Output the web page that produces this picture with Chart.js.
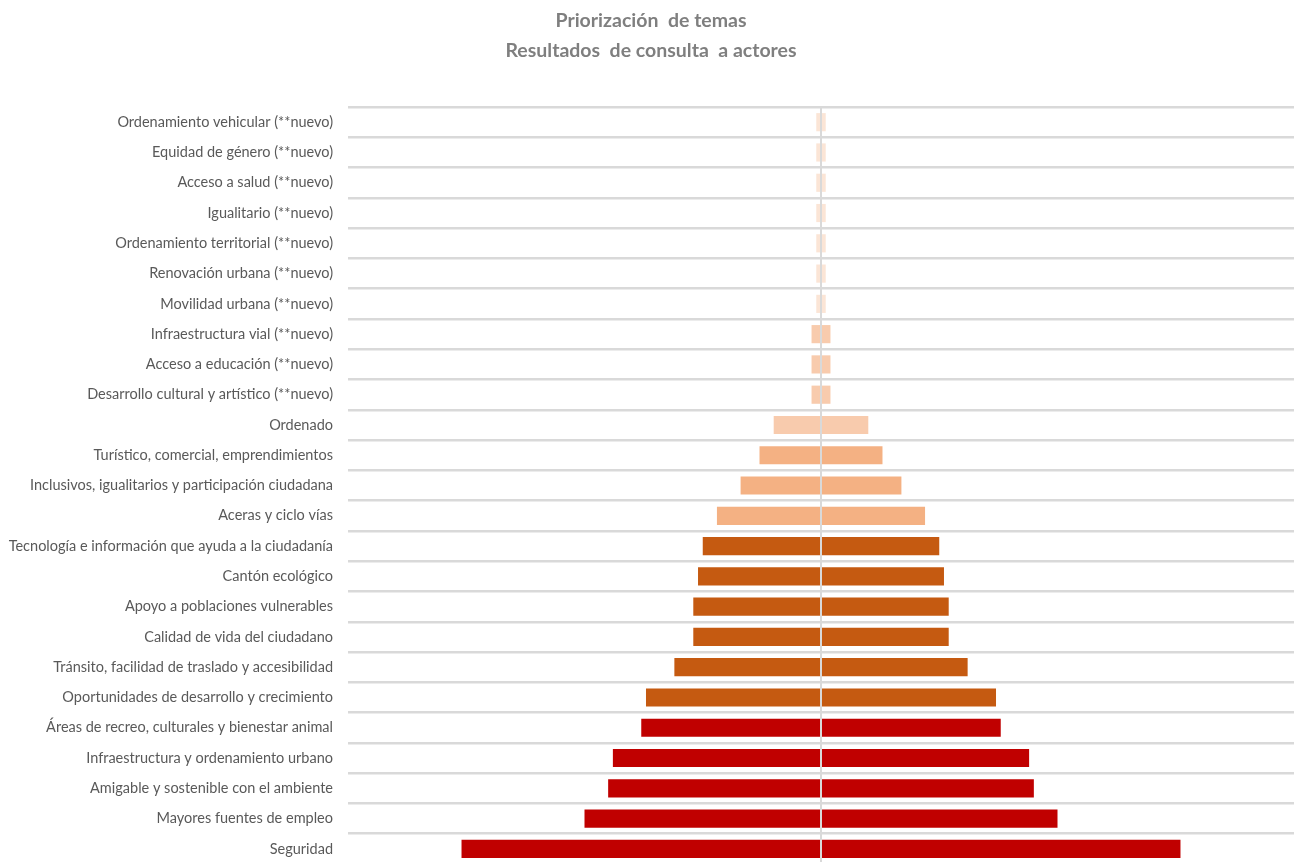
<!DOCTYPE html>
<html>
<head>
<meta charset="utf-8">
<title>Priorización de temas</title>
<script src="https://cdn.jsdelivr.net/npm/chart.js@4"></script>
<style>
    html, body { margin: 0; padding: 0; background: #fff; overflow: hidden; }
    canvas { display: block; }
</style>
</head>
<body>
<canvas id="myChart-temas" width="1294" height="868"></canvas>
<script>
// temas, de arriba hacia abajo
var temas = [
    'Ordenamiento vehicular (**nuevo)',
    'Equidad de género (**nuevo)',
    'Acceso a salud (**nuevo)',
    'Igualitario (**nuevo)',
    'Ordenamiento territorial (**nuevo)',
    'Renovación urbana (**nuevo)',
    'Movilidad urbana (**nuevo)',
    'Infraestructura vial (**nuevo)',
    'Acceso a educación (**nuevo)',
    'Desarrollo cultural y artístico (**nuevo)',
    'Ordenado',
    'Turístico, comercial, emprendimientos',
    'Inclusivos, igualitarios y participación ciudadana',
    'Aceras y ciclo vías',
    'Tecnología e información que ayuda a la ciudadanía',
    'Cantón ecológico',
    'Apoyo a poblaciones vulnerables',
    'Calidad de vida del ciudadano',
    'Tránsito, facilidad de traslado y accesibilidad',
    'Oportunidades de desarrollo y crecimiento',
    'Áreas de recreo, culturales y bienestar animal',
    'Infraestructura y ordenamiento urbano',
    'Amigable y sostenible con el ambiente',
    'Mayores fuentes de empleo',
    'Seguridad'
]

// votos por tema
var votos = [1, 1, 1, 1, 1, 1, 1, 2, 2, 2, 10, 13, 17, 22, 25, 26, 27, 27, 31, 37, 38, 44, 45, 50, 76]

// grupo de color de cada tema (0 = mas claro, 4 = rojo)
var grupos = [0, 0, 0, 0, 0, 0, 0, 1, 1, 1, 1, 2, 2, 2, 3, 3, 3, 3, 3, 3, 4, 4, 4, 4, 4]
var paleta = ['#FBE5D6', '#F8CBAD', '#F4B183', '#C55A11', '#C00000']

var colores = grupos.map(g => paleta[g])

var ctx = document.getElementById('myChart-temas').getContext('2d');
var chart = new Chart(ctx, {
    type: 'bar',
    data: {
        labels: temas,
        datasets: [{
            label: 'izq',
            data: votos.map(v => -v),
            backgroundColor: colores,
            borderWidth: 0
        }, {
            label: 'der',
            data: votos,
            backgroundColor: colores,
            borderWidth: 0
        }]
    },
    options: {
        indexAxis: 'y',
        responsive: false,
        animation: false,
        barPercentage: 0.6,
        categoryPercentage: 1,
        layout: {
            padding: { left: 8, right: 0, top: 0, bottom: 4 }
        },
        plugins: {
            legend: { display: false },
            tooltip: { enabled: false },
            title: {
                display: true,
                text: ['Priorización  de temas', 'Resultados  de consulta  a actores'],
                color: '#7F7F7F',
                font: { family: 'Lato', size: 19.5, weight: 'bold', lineHeight: 1.54 },
                padding: { top: 6, bottom: 41 }
            }
        },
        scales: {
            x: {
                stacked: true,
                min: -100,
                max: 100,
                ticks: { display: false },
                border: { display: false },
                grid: {
                    drawTicks: false,
                    z: 1,
                    lineWidth: 2,
                    color: c => c.tick && c.tick.value === 0 ? '#D9D9D9' : 'rgba(0,0,0,0)'
                },
                afterFit: function (scale) {
                    scale.height = 0
                }
            },
            y: {
                stacked: true,
                border: { display: false },
                grid: {
                    drawTicks: false,
                    color: '#D9D9D9',
                    lineWidth: 2.5
                },
                ticks: {
                    color: '#595959',
                    padding: 15,
                    autoSkip: false,
                    font: { family: 'Lato', size: 14.5 }
                },
                afterFit: function (scale) {
                    scale.width = 340
                    scale.paddingTop = 0
                    scale.paddingBottom = 0
                }
            }
        }
    }
});
</script>
</body>
</html>
